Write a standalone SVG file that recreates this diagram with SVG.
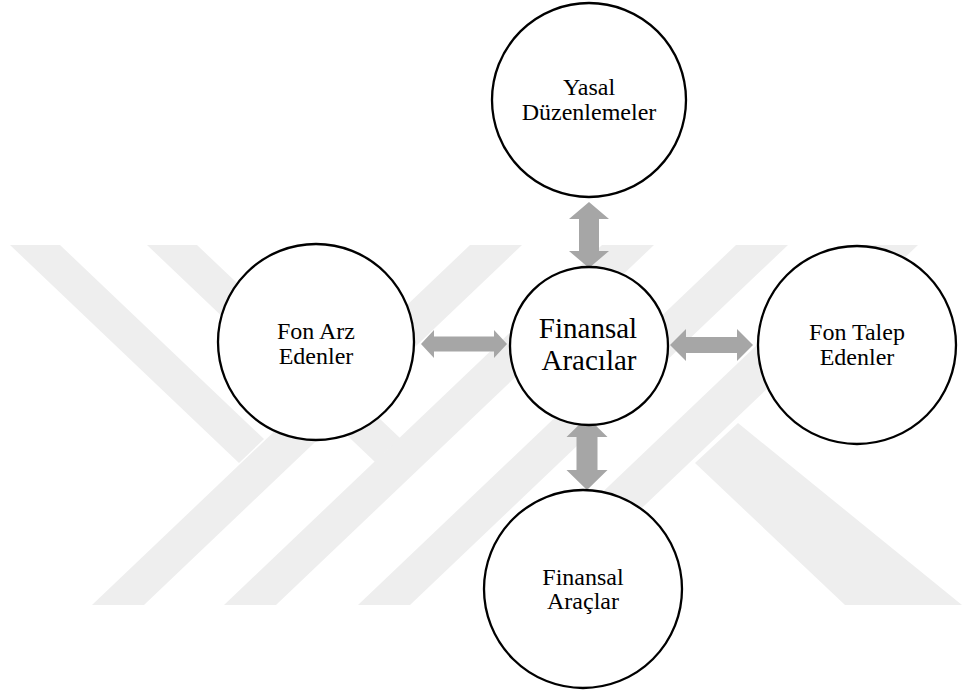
<svg xmlns="http://www.w3.org/2000/svg" width="980" height="697" viewBox="0 0 980 697">
  <style>
    .band { fill: #eeeeee; }
    .node circle { fill: #ffffff; stroke: #000000; stroke-width: 2.3; }
    .link { fill: #a6a6a6; stroke: none; }
  </style>

  <rect x="0" y="0" width="980" height="697" fill="#ffffff"/>

  <!-- faint background emblem made of diagonal bands -->
  <g id="emblem">
    <polygon class="band" points="92,605 144,605 522,245 470,245"/>
    <polygon class="band" points="10,245 60,245 264,439 239,463"/>
    <polygon class="band" points="224,605 276,605 654,245 602,245"/>
    <polygon class="band" points="147,245 197,245 400,438 375,462"/>
    <polygon class="band" points="358,605 410,605 788,245 736,245"/>
    <polygon class="band" points="484,605 540,605 918,245 862,245"/>
    <polygon class="band" points="695,463 738,423 962,605 845,605"/>
  </g>

  <!-- connectors: double-headed block arrows -->
  <g id="connectors">
    <path class="link" d="M589,202 L609,219 L599,219 L599,251 L609,251 L589,268 L569,251 L579,251 L579,219 L569,219 Z"/>
    <path class="link" d="M587,417 L607.5,437 L597.5,437 L597.5,470 L607.5,470 L587,490 L566.5,470 L576.5,470 L576.5,437 L566.5,437 Z"/>
    <path class="link" d="M421,344 L434,330 L434,336.5 L494,336.5 L494,330 L507,344 L494,358 L494,351.5 L434,351.5 L434,358 Z"/>
    <path class="link" d="M670,345 L686,329 L686,337 L737,337 L737,329 L753,345 L737,361 L737,353 L686,353 L686,361 Z"/>
  </g>

  <g font-family="'Liberation Serif', 'DejaVu Serif', serif" font-size="24" fill="#000000" text-anchor="middle">
    <g id="regulation" class="node">
      <circle cx="589" cy="100" r="97"/>
      <text x="589" y="95">Yasal</text>
      <text x="589" y="119.5">Düzenlemeler</text>
    </g>

    <g id="hub" class="node">
      <circle cx="589" cy="346" r="79"/>
      <text x="588" y="338" font-size="29">Finansal</text>
      <text x="589" y="370" font-size="29">Aracılar</text>
    </g>

    <g id="suppliers" class="node">
      <circle cx="316" cy="342" r="98"/>
      <text x="316" y="339">Fon Arz</text>
      <text x="316" y="364">Edenler</text>
    </g>

    <g id="demanders" class="node">
      <circle cx="857" cy="345" r="99"/>
      <text x="857" y="340">Fon Talep</text>
      <text x="857" y="365">Edenler</text>
    </g>

    <g id="instruments" class="node">
      <circle cx="583" cy="589" r="99"/>
      <text x="583" y="585">Finansal</text>
      <text x="583" y="609">Araçlar</text>
    </g>
  </g>
</svg>
